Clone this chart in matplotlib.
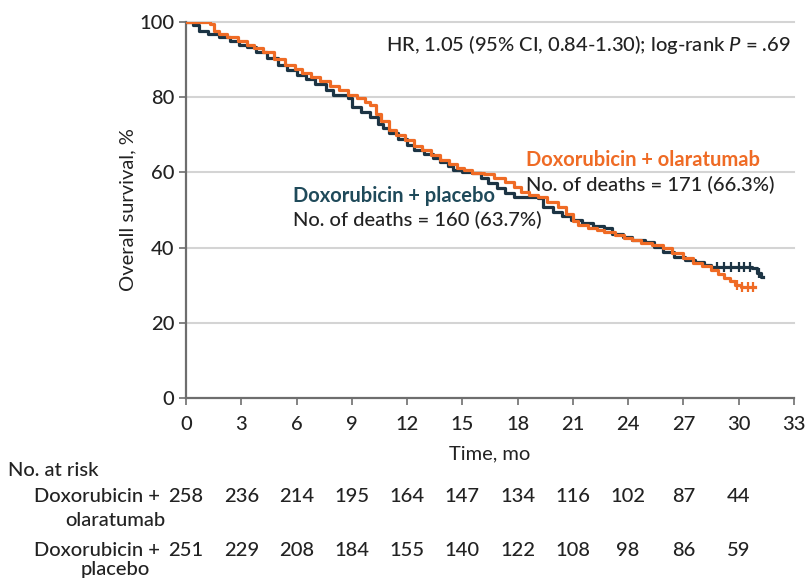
import matplotlib
matplotlib.use("Agg")
import matplotlib.pyplot as plt
import matplotlib.transforms as mtransforms

# ---------------- data ----------------
olara_t = [0, 1.3, 1.5, 1.8, 2.2, 2.8, 3.3, 3.7, 4.2, 4.8, 5.4, 5.9, 6.3, 6.8, 7.3, 7.8,
           8.3, 8.8, 9.3, 9.7, 10.0, 10.3, 10.6, 11.0, 11.4, 11.9, 12.4, 12.8, 13.3, 13.8,
           14.3, 14.7, 15.1, 15.5, 16.2, 16.7, 17.3, 17.8, 18.2, 18.6, 19.1, 19.6, 20.2,
           20.6, 21.0, 21.3, 21.8, 22.3, 22.7, 23.3, 23.8, 24.2, 24.7, 25.3, 25.9, 26.4,
           27.0, 27.5, 28.0, 28.5, 28.9, 29.2, 29.5, 29.8, 30.1, 30.9]
olara_s = [100, 99.6, 97.5, 96.8, 96.0, 95.0, 94.0, 93.2, 92.0, 90.2, 88.6, 87.5, 86.4, 85.3,
           84.2, 83.0, 82.0, 80.6, 79.8, 78.8, 77.8, 75.5, 73.8, 71.3, 70.0, 68.5, 67.0, 66.0,
           64.6, 63.3, 62.2, 61.3, 60.6, 59.8, 59.5, 58.5, 57.4, 56.0, 54.8, 54.0, 53.5, 52.0,
           50.8, 49.0, 47.2, 46.0, 45.3, 44.6, 44.1, 43.3, 42.5, 42.0, 41.2, 40.6, 39.9, 38.5,
           37.2, 36.0, 35.0, 34.0, 33.0, 31.9, 31.0, 30.0, 29.5, 29.5]
olara_cens_t = [29.9, 30.2, 30.5, 30.8]
olara_cens_s = [30.0, 29.5, 29.5, 29.5]

plac_t = [0, 0.4, 0.7, 1.2, 1.8, 2.4, 2.9, 3.3, 3.8, 4.4, 5.0, 5.5, 6.0, 6.5, 7.0, 7.6, 8.0,
          8.8, 9.0, 9.5, 10.0, 10.4, 10.7, 11.0, 11.5, 12.0, 12.4, 12.9, 13.4, 13.8, 14.2,
          14.5, 15.0, 15.5, 16.0, 16.4, 16.9, 17.3, 17.8, 19.1, 19.4, 19.9, 20.4, 20.9, 21.5,
          22.1, 22.7, 23.1, 23.7, 24.2, 24.9, 25.4, 25.9, 26.5, 27.1, 27.6, 28.1, 28.5, 30.7,
          31.0, 31.2, 31.3]
plac_s = [100, 99.2, 97.5, 96.8, 96.0, 95.0, 94.0, 93.3, 92.0, 90.3, 88.6, 87.2, 86.0, 84.8,
          83.5, 82.0, 80.6, 79.8, 77.4, 76.0, 74.7, 73.0, 71.8, 70.5, 68.8, 67.2, 66.0, 64.8,
          63.8, 62.8, 61.6, 60.6, 60.2, 59.8, 58.5, 57.2, 55.8, 54.6, 53.5, 53.2, 50.8, 49.6,
          48.4, 47.3, 46.5, 45.8, 45.2, 43.6, 42.8, 42.0, 41.5, 40.2, 38.8, 37.6, 36.6, 36.2,
          35.4, 34.8, 34.6, 33.2, 32.2, 32.2]
plac_cens_t = [28.8, 29.2, 29.6, 30.0, 30.3, 30.6, 31.1]
plac_cens_s = [34.8, 34.8, 34.8, 34.8, 34.8, 34.8, 33.2]

risk_times = [0, 3, 6, 9, 12, 15, 18, 21, 24, 27, 30]
risk_olara = [258, 236, 214, 195, 164, 147, 134, 116, 102, 87, 44]
risk_plac = [251, 229, 208, 184, 155, 140, 122, 108, 98, 86, 59]

xticks = list(range(0, 34, 3))
yticks = [0, 20, 40, 60, 80, 100]

# ---------------- style ----------------
plt.rcParams['font.family'] = ['Lato', 'DejaVu Sans']
plt.rcParams['font.weight'] = 'medium'
plt.rcParams['mathtext.fontset'] = 'custom'
plt.rcParams['mathtext.it'] = 'Lato:italic'
plt.rcParams['mathtext.rm'] = 'Lato'

ORANGE = '#EF6B25'
NAVY = '#1C3444'
TEAL = '#1F4A5A'
TXT = '#222222'
GRID = '#D4D4D4'
SPINE = '#6E6E6E'
FS = 14.5

fig = plt.figure(figsize=(8.09, 5.80), dpi=100)
ax = fig.add_axes([186 / 809, 1 - 398 / 580, 608 / 809, 376 / 580])

ax.set_xlim(0, 33)
ax.set_ylim(0, 100)
ax.set_xticks(xticks)
ax.set_yticks(yticks)
ax.tick_params(axis='both', colors=SPINE, labelcolor=TXT, labelsize=FS, length=5, width=1.2, direction='out')
ax.tick_params(axis='x', pad=8)
for s in ['top', 'right']:
    ax.spines[s].set_visible(False)
for s in ['left', 'bottom']:
    ax.spines[s].set_color(SPINE)
    ax.spines[s].set_linewidth(1.6)

for y in [20, 40, 60, 80, 100]:
    ax.axhline(y, color=GRID, lw=1.5, zorder=0, clip_on=False)

ax.step(plac_t, plac_s, where='post', color=NAVY, lw=2.3, zorder=3)
ax.step(olara_t, olara_s, where='post', color=ORANGE, lw=2.3, zorder=4)
ax.plot(plac_cens_t, plac_cens_s, ls='none', marker='|', ms=7, mew=1.6, color=NAVY, zorder=3)
ax.plot(olara_cens_t, olara_cens_s, ls='none', marker='|', ms=7, mew=1.6, color=ORANGE, zorder=4)

ax.set_xlabel('Time, mo', fontsize=FS, color=TXT, labelpad=9)
ax.set_ylabel('Overall survival, %', fontsize=FS, color=TXT, labelpad=2)

ax.text(0.995, 0.939, 'HR, 1.05 (95% CI, 0.84-1.30); log-rank $\\it{P}$ = .69', transform=ax.transAxes,
        ha='right', va='center', fontsize=FS, color=TXT)
ax.text(18.45, 63.3, 'Doxorubicin + olaratumab', fontsize=14.5, color=ORANGE, fontweight='bold', va='center')
ax.text(18.45, 56.6, 'No. of deaths = 171 (66.3%)', fontsize=FS, color=TXT, va='center')
ax.text(5.8, 53.7, 'Doxorubicin + placebo', fontsize=14.5, color=TEAL, fontweight='bold', va='center')
ax.text(5.8, 47.3, 'No. of deaths = 160 (63.7%)', fontsize=FS, color=TXT, va='center')

# risk table
trans = mtransforms.blended_transform_factory(ax.transData, fig.transFigure)
fig.text(8 / 809, 1 - 470 / 580, 'No. at risk', fontsize=FS, color=TXT, ha='left', va='center')
fig.text(160 / 809, 1 - 497 / 580, 'Doxorubicin +', fontsize=FS, color=TXT, ha='right', va='center')
fig.text(115 / 809, 1 - 520 / 580, 'olaratumab', fontsize=FS, color=TXT, ha='center', va='center')
fig.text(160 / 809, 1 - 550 / 580, 'Doxorubicin +', fontsize=FS, color=TXT, ha='right', va='center')
fig.text(115 / 809, 1 - 570 / 580, 'placebo', fontsize=FS, color=TXT, ha='center', va='center')
for t, a, b in zip(risk_times, risk_olara, risk_plac):
    ax.text(t, 1 - 497 / 580, str(a), transform=trans, fontsize=FS, color=TXT, ha='center', va='center')
    ax.text(t, 1 - 550 / 580, str(b), transform=trans, fontsize=FS, color=TXT, ha='center', va='center')

fig.savefig('out.png', dpi=100)
